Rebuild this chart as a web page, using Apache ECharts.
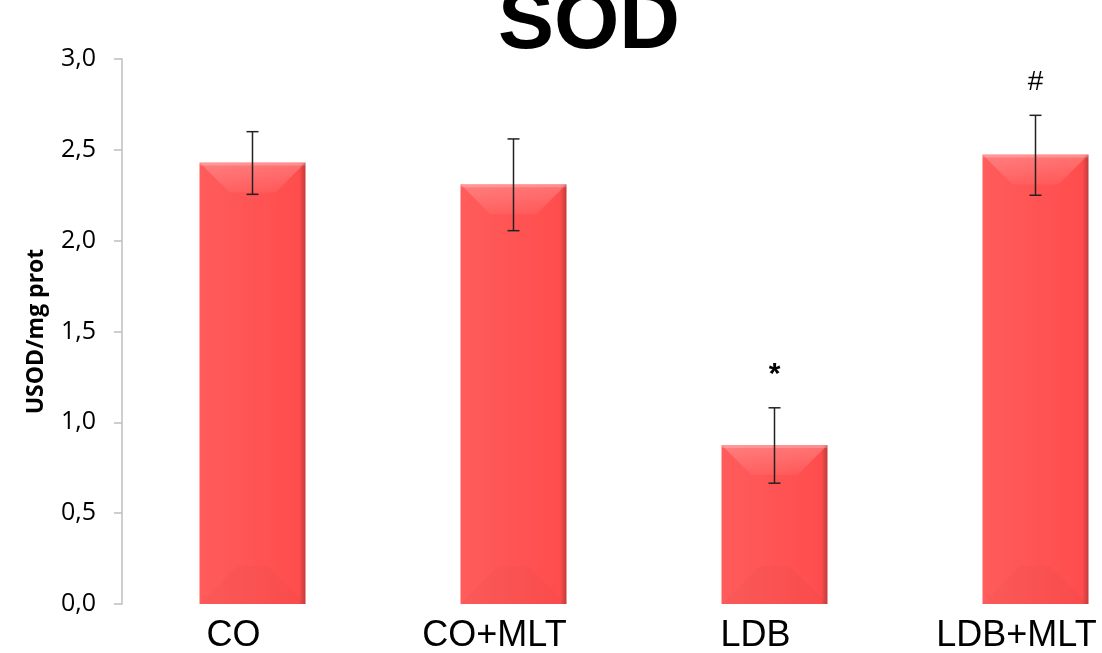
<!DOCTYPE html>
<html><head><meta charset="utf-8">
<script src="https://cdn.jsdelivr.net/npm/echarts@6/dist/echarts.min.js"></script>
<style>html,body{margin:0;padding:0;background:#fff}#c{width:1102px;height:653px}</style>
</head><body><div id="c"></div>
<script>
const categories = ['CO', 'CO+MLT', 'LDB', 'LDB+MLT'];
const means = [2.43, 2.31, 0.875, 2.475];
const errLow = [2.255, 2.055, 0.665, 2.25];
const errHigh = [2.60, 2.56, 1.08, 2.69];
const marks = ['', '', '*', '#'];
const yTicks = [0, 0.5, 1.0, 1.5, 2.0, 2.5, 3.0];

const chart = echarts.init(document.getElementById('c'));
const barW = 106;

function barItem(params, api) {
  const i = api.value(0);
  const top = api.coord([i, api.value(1)]);
  const base = api.coord([i, 0]);
  const x0 = top[0] - barW / 2, x1 = top[0] + barW / 2;
  const y0 = top[1], y1 = base[1];
  return {
    type: 'group',
    children: [
      { type: 'rect', shape: { x: x0, y: y0, width: barW, height: y1 - y0 },
        style: { fill: new echarts.graphic.LinearGradient(0, 0, 1, 0, [
          { offset: 0, color: '#ff5c5c' }, { offset: 0.94, color: '#ff4d4d' }, { offset: 1, color: '#c43a3a' }]) } },
      { type: 'polygon', shape: { points: [[x0, y0], [x1, y0], [x1 - 30, y0 + 30], [x0 + 30, y0 + 30]] },
        style: { fill: new echarts.graphic.LinearGradient(0, 0, 0, 1, [
          { offset: 0, color: 'rgba(255,255,255,0.22)' }, { offset: 1, color: 'rgba(255,255,255,0.05)' }]) } },
      { type: 'rect', shape: { x: x0, y: y0, width: barW, height: 3 }, style: { fill: 'rgba(255,255,255,0.2)' } },
      { type: 'polygon', shape: { points: [[x0, y1], [x1, y1], [x1 - 38, y1 - 38], [x0 + 38, y1 - 38]] },
        style: { fill: 'rgba(0,0,0,0.02)' } }
    ]
  };
}

function errItem(params, api) {
  const i = api.value(0);
  const lo = api.coord([i, api.value(1)]);
  const hi = api.coord([i, api.value(2)]);
  const x = lo[0], cap = 6;
  const children = [
    { type: 'line', shape: { x1: x, y1: hi[1], x2: x, y2: lo[1] }, style: { stroke: '#222', lineWidth: 1.5 } },
    { type: 'line', shape: { x1: x - cap, y1: hi[1], x2: x + cap, y2: hi[1] }, style: { stroke: '#222', lineWidth: 1.5 } },
    { type: 'line', shape: { x1: x - cap, y1: lo[1], x2: x + cap, y2: lo[1] }, style: { stroke: '#222', lineWidth: 1.5 } }
  ];
  const m = marks[i];
  if (m) {
    const star = m === '*';
    children.push({ type: 'text', x: x, y: hi[1] - (star ? 18 : 19),
      style: { text: m, align: 'center', verticalAlign: 'bottom', fill: '#000',
        font: star ? 'bold 30px "Liberation Sans", Arial' : '28px "Liberation Sans", Arial' } });
  }
  return { type: 'group', children };
}

chart.setOption({
  animation: false,
  backgroundColor: '#fff',
  grid: { left: 122, top: 59, width: 1044, height: 545, containLabel: false, outerBoundsMode: 'none' },
  title: { text: 'SOD', left: 584, top: -22, textAlign: 'center',
    textStyle: { fontFamily: '"Liberation Sans", Arial', fontWeight: 'bold', fontSize: 84, color: '#000' } },
  xAxis: { type: 'category', data: categories,
    axisLine: { show: false }, axisTick: { show: false },
    axisLabel: { fontFamily: '"Liberation Sans", Arial', fontSize: 36, color: '#000', margin: 14,
      padding: [0, 38, 0, 0] } },
  yAxis: { type: 'value', min: 0, max: 3, interval: 0.5,
    name: 'USOD/mg prot', nameLocation: 'middle', nameGap: 74, nameRotate: 90,
    nameTextStyle: { fontFamily: '"Open Sans", "Noto Sans", sans-serif', fontWeight: 'bold', fontSize: 23, color: '#000' },
    axisLine: { show: true, lineStyle: { color: '#bfbfbf', width: 1.5 } },
    axisTick: { show: true, length: 8, lineStyle: { color: '#bfbfbf', width: 1.5 } },
    splitLine: { show: false },
    axisLabel: { fontFamily: '"Open Sans", "Noto Sans", sans-serif', fontSize: 25, color: '#000', margin: 26,
      formatter: v => yTicks.includes(v) ? v.toFixed(1).replace('.', ',') : '' } },
  series: [
    { type: 'custom', renderItem: barItem, data: means.map((v, i) => [i, v]), z: 2 },
    { type: 'custom', renderItem: errItem, data: errLow.map((v, i) => [i, v, errHigh[i]]), z: 3 }
  ]
});
</script></body></html>
